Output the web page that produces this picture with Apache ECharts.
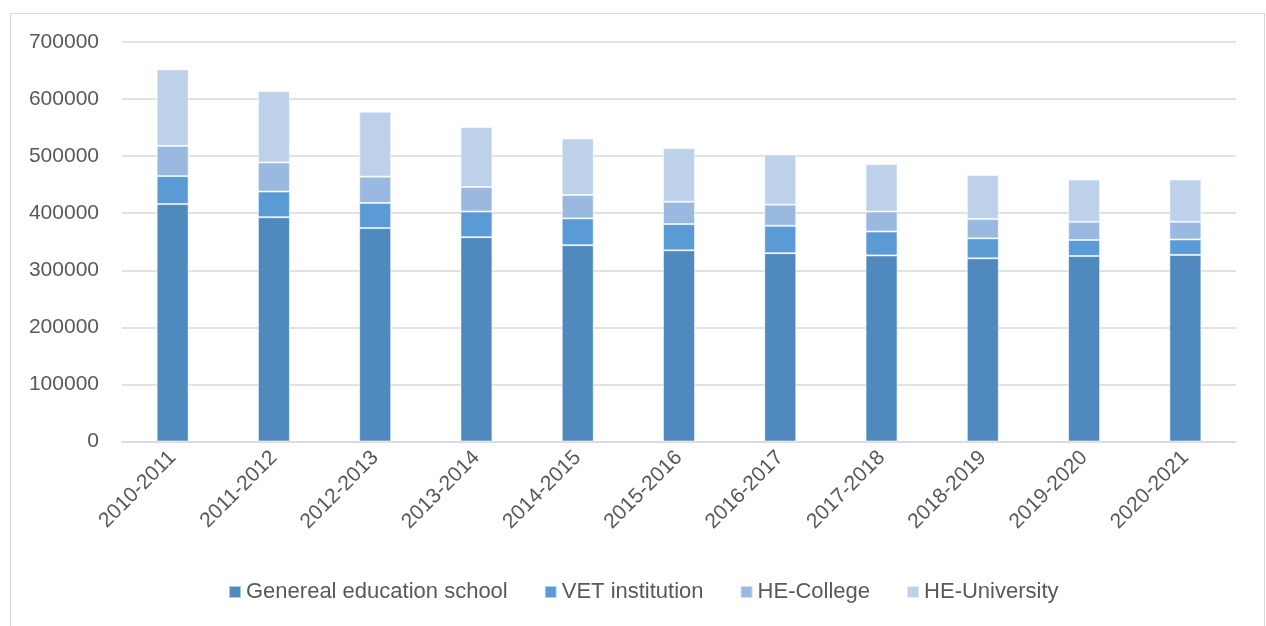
<!DOCTYPE html>
<html>
<head>
<meta charset="utf-8">
<script src="https://cdn.jsdelivr.net/npm/echarts@6/dist/echarts.min.js"></script>
<style>
html,body{margin:0;padding:0;background:#fff;}
#wrap{position:relative;width:1266px;height:626px;overflow:hidden;}
#frame{position:absolute;left:10px;top:13px;width:1255px;height:640px;border:1px solid #d9d9d9;box-sizing:border-box;}
#chart{position:absolute;left:0;top:0;width:1266px;height:626px;}
</style>
</head>
<body>
<div id="wrap"><div id="frame"></div><div id="chart"></div></div>
<script>
const categories = ['2010-2011','2011-2012','2012-2013','2013-2014','2014-2015','2015-2016','2016-2017','2017-2018','2018-2019','2019-2020','2020-2021'];
const generalSchool = [416000,393000,374000,358000,344000,335000,330000,326000,321000,325000,327000];
const vetInstitution = [49000,45000,44000,45000,47000,46000,48000,42000,35000,28000,27000];
const heCollege = [53000,51000,46000,43000,41000,39000,37000,35000,34000,32000,31000];
const heUniversity = [134000,125000,114000,105000,99000,94000,88000,83000,77000,74000,74000];
const seriesNames = ['Genereal education school','VET institution','HE-College','HE-University'];
const yTicks = [0,100000,200000,300000,400000,500000,600000,700000];

const colors = ['#4F89BD','#5B9BD5','#9AB9E0','#BDD1EA'];
const dataSets = [generalSchool, vetInstitution, heCollege, heUniversity];
const font = '"Liberation Sans", Arial, sans-serif';

const chart = echarts.init(document.getElementById('chart'));
chart.setOption({
  animation:false,
  color: colors,
  grid:{left:122,right:30,top:42,bottom:184.5,containLabel:false},
  xAxis:{
    type:'category', data:categories,
    axisLine:{lineStyle:{color:'#d9d9d9',width:1.5}},
    axisTick:{show:false},
    axisLabel:{rotate:45,fontSize:21,color:'#595959',fontFamily:font,margin:13,interval:0}
  },
  yAxis:{
    type:'value', min:yTicks[0], max:yTicks[yTicks.length-1], interval:100000,
    axisLine:{show:false}, axisTick:{show:false},
    axisLabel:{fontSize:21,color:'#595959',fontFamily:font,margin:23,formatter:v=>String(v)},
    splitLine:{lineStyle:{color:'#d9d9d9',width:1.5}}
  },
  legend:{
    bottom:18, left:223, itemWidth:12, itemHeight:12, itemGap:36,
    icon:'rect',
    textStyle:{fontSize:22,color:'#595959',fontFamily:font},
    data:seriesNames
  },
  series: seriesNames.map((n,i)=>({
    name:n, type:'bar', stack:'total', data:dataSets[i], barWidth:32,
    itemStyle:{color:colors[i],borderColor:'rgba(255,255,255,0.55)',borderWidth:1}
  }))
});
</script>
</body>
</html>
